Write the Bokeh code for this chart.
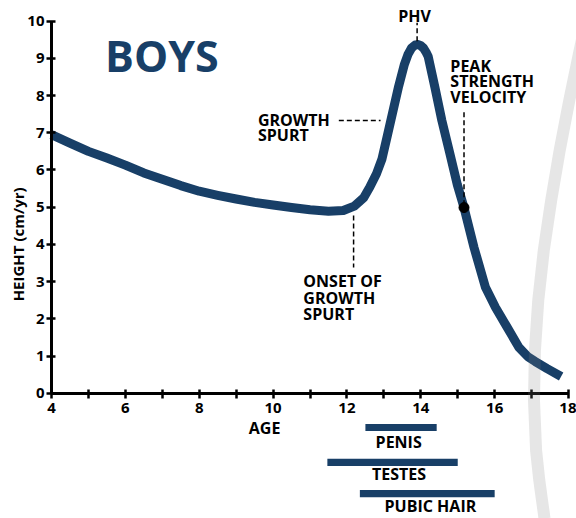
from math import pi
from bokeh.plotting import figure
from bokeh.models import Range1d, LinearAxis, FixedTicker
from bokeh.core.properties import value
from bokeh.embed import file_html
from bokeh.resources import INLINE

# ---------------- data ----------------
AGE = [4.0, 4.5, 5.0, 5.5, 6.0, 6.5, 7.0, 7.5, 8.0, 8.5, 9.0, 9.5, 10.0, 10.5,
       11.0, 11.5, 11.9, 12.2, 12.45, 12.62, 12.8, 12.95, 13.1, 13.25, 13.4,
       13.55, 13.65, 13.75, 13.85, 13.93, 14.0, 14.07, 14.14, 14.2, 14.38,
       14.57, 14.79, 14.99, 15.17, 15.44, 15.75, 16.02, 16.34, 16.65, 16.9,
       17.1, 17.42, 17.8]
HEIGHT = [6.95, 6.72, 6.50, 6.32, 6.13, 5.92, 5.75, 5.58, 5.43, 5.32, 5.22, 5.13,
          5.06, 4.99, 4.93, 4.89, 4.91, 5.03, 5.25, 5.54, 5.90, 6.30, 6.95, 7.60,
          8.25, 8.82, 9.10, 9.28, 9.36, 9.37, 9.34, 9.28, 9.17, 9.05, 8.23,
          7.33, 6.43, 5.60, 4.99, 3.92, 2.85, 2.31, 1.77, 1.24, 0.98,
          0.85, 0.66, 0.45]

X_TICKS = [4, 6, 8, 10, 12, 14, 16, 18]
X_MINOR = [5, 7, 9, 11, 13, 15, 17]
Y_TICKS = [0, 1, 2, 3, 4, 5, 6, 7, 8, 9, 10]

STAGES = ["PENIS", "TESTES", "PUBIC HAIR"]
STAGE_START = [12.5, 11.47, 12.35]
STAGE_END = [14.43, 15.0, 16.0]

PHV_AGE, PHV_HEIGHT = 13.9, 9.37
PSV_AGE, PSV_HEIGHT = 15.17, 4.99
ONSET_AGE, ONSET_HEIGHT = 12.18, 4.91
SPURT_AGE, SPURT_HEIGHT = 12.91, 7.33

NAVY = "#183f67"
FONT = value("Open Sans")

# decorative grey arc
ARC_X = [18.60, 18.30, 18.02, 17.76, 17.53, 17.33, 17.18, 17.09,
         17.065, 17.122, 17.209, 17.35]
ARC_Y = [10.556, 9.213, 7.868, 6.524, 5.180, 3.836, 2.492, 1.148,
         -0.196, -1.540, -2.347, -3.368]

p = figure(width=576, height=518,
           x_range=Range1d(2.619, 18.216), y_range=Range1d(-3.368, 10.556),
           output_backend="svg", toolbar_location=None, min_border=0,
           x_axis_type=None, y_axis_type=None)
p.outline_line_color = None
p.background_fill_color = "white"

axis_style = dict(axis_line_width=3, axis_line_color="black",
                  major_tick_line_width=2.5, minor_tick_line_width=2.5,
                  major_tick_in=4, major_tick_out=5,
                  minor_tick_in=4, minor_tick_out=5,
                  major_label_text_font="Open Sans",
                  major_label_text_font_style="bold",
                  major_label_text_font_size="15px",
                  major_label_text_color="black")

xaxis = LinearAxis(fixed_location=0, bounds=(4, 18),
                   ticker=FixedTicker(ticks=X_TICKS, minor_ticks=X_MINOR),
                   major_label_standoff=5, **axis_style)
yaxis = LinearAxis(fixed_location=4, bounds=(0, 10),
                   ticker=FixedTicker(ticks=Y_TICKS, minor_ticks=[]),
                   major_label_standoff=2, **axis_style)
p.add_layout(xaxis, "below")
p.add_layout(yaxis, "left")

# main curve
p.line(AGE, HEIGHT, line_width=9, line_color=NAVY, line_join="round", line_cap="butt")

# dashed annotation leaders
dash = dict(line_dash="5 3", line_width=1.5, line_color="black")
p.segment(x0=[PHV_AGE], y0=[PHV_HEIGHT + 0.09], x1=[PHV_AGE], y1=[9.96], **dash)
p.segment(x0=[SPURT_AGE - 1.13], y0=[SPURT_HEIGHT], x1=[SPURT_AGE], y1=[SPURT_HEIGHT], **dash)
p.segment(x0=[ONSET_AGE], y0=[ONSET_HEIGHT - 0.13], x1=[ONSET_AGE], y1=[3.38], **dash)
p.segment(x0=[PSV_AGE], y0=[7.55], x1=[PSV_AGE], y1=[PSV_HEIGHT], **dash)
p.scatter([PSV_AGE], [PSV_HEIGHT], size=10, color="black")

# maturation bars
rows = [-0.92, -1.86, -2.70]
p.hbar(y=rows, left=STAGE_START, right=STAGE_END, height=0.19,
       fill_color=NAVY, line_color=None)

txt = dict(text_font=FONT, text_font_style="bold", text_color="black",
           text_baseline="middle")
p.text(x=[13.40, 13.41, 14.26], y=[-1.312, -2.185, -3.04], text=STAGES,
       text_font_size="16px", text_align="center", **txt)

# annotation texts
p.text(x=[13.83], y=[10.129], text=["PHV"], text_font_size="16px",
       text_align="center", **txt)
p.text(x=[9.59, 9.59], y=[7.331, 6.93], text=["GROWTH", "SPURT"],
       text_font_size="16px", text_align="left", **txt)
p.text(x=[10.82, 10.82, 10.82], y=[3.003, 2.559, 2.142],
       text=["ONSET OF", "GROWTH", "SPURT"],
       text_font_size="16px", text_align="left", **txt)
p.text(x=[14.80, 14.80, 14.80], y=[8.796, 8.379, 7.949],
       text=["PEAK", "STRENGTH", "VELOCITY"],
       text_font_size="16px", text_align="left", **txt)

# axis titles
p.text(x=[9.77], y=[-0.935], text=["AGE"], text_font_size="16px",
       text_align="center", **txt)
p.text(x=[3.08], y=[4.0], text=["HEIGHT (cm/yr)"], angle=pi / 2,
       text_font=FONT, text_font_style="bold", text_color="black",
       text_font_size="15px", text_align="center", text_baseline="middle")

# title
p.text(x=[6.99], y=[9.086], text=["BOYS"], text_font_size="43px",
       text_align="center", text_font=FONT, text_font_style="bold",
       text_color=NAVY, text_baseline="middle")

# grey arc, drawn over everything and semi-transparent
p.line(ARC_X, ARC_Y, line_width=12, line_color="#808080", line_alpha=0.2,
       line_join="round", level="overlay")

open("out.html", "w").write(file_html(p, INLINE))
